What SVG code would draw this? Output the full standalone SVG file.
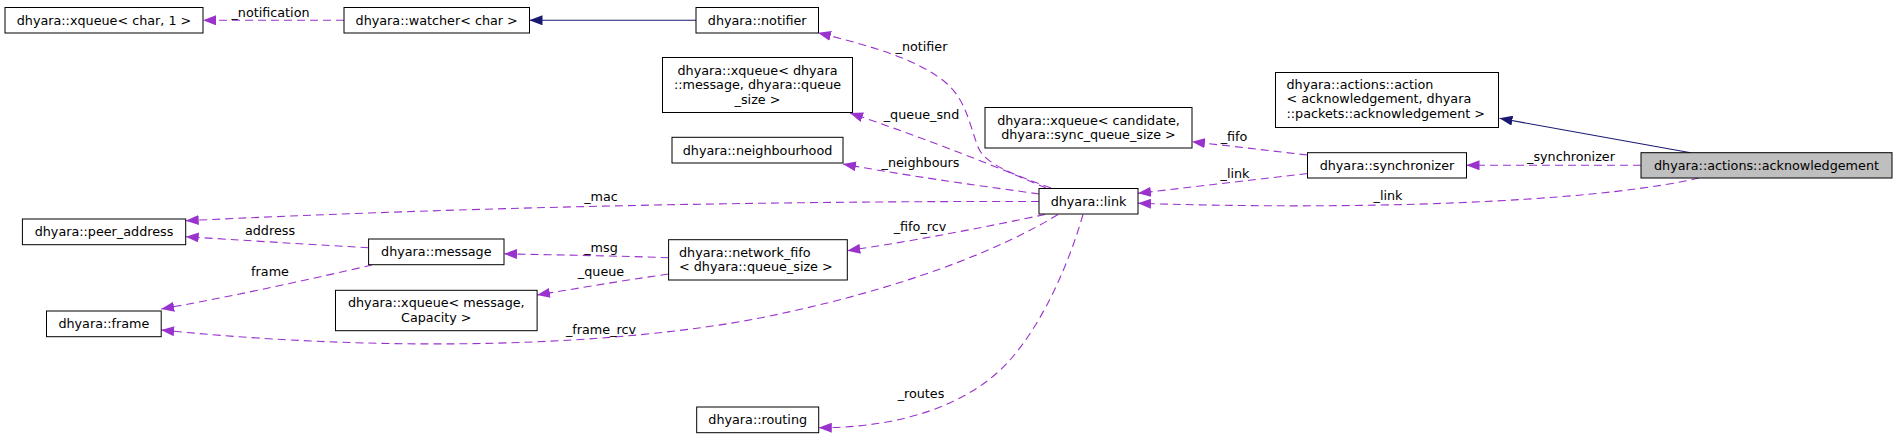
<svg xmlns="http://www.w3.org/2000/svg" width="1897" height="439" viewBox="0 0 1897 439">
<style>
.node rect{fill:#ffffff;stroke:#000000;stroke-width:1}
.node.root rect{fill:#bfbfbf}
text{font-family:"DejaVu Sans","Liberation Sans",sans-serif;font-size:12.75px;fill:#000000}
.c{text-anchor:middle}
.l{text-anchor:start}
.use{fill:none;stroke:#9a32cd;stroke-width:1.1;stroke-dasharray:8,5;marker-end:url(#ap)}
.inh{fill:none;stroke:#191970;stroke-width:1.1;marker-end:url(#an)}
.lbl{text-anchor:middle}
</style>
<defs>
<marker id="ap" markerUnits="userSpaceOnUse" viewBox="0 0 13 10" refX="13" refY="5" markerWidth="13" markerHeight="10" orient="auto">
<path d="M0,0 L13,5 L0,10 z" fill="#9a32cd" stroke="none"/>
</marker>
<marker id="an" markerUnits="userSpaceOnUse" viewBox="0 0 13 10" refX="13" refY="5" markerWidth="13" markerHeight="10" orient="auto">
<path d="M0,0 L13,5 L0,10 z" fill="#191970" stroke="none"/>
</marker>
</defs>
<rect width="1897" height="439" fill="#ffffff"/>
<g id="edges">
<path class="use" d="M344,20.3 L203,20.3"/>
<path class="inh" d="M696,20.3 L529.5,20.3"/>
<path class="inh" d="M1690.6,152.7 L1499.5,118.3"/>
<path class="use" d="M1641,165.3 L1466.5,165.3"/>
<path class="use" d="M1699,178 C1620,197 1420,212 1138,203.3"/>
<path class="use" d="M1307.5,173.5 L1138,193.3"/>
<path class="use" d="M1307.5,155 L1192,141.7"/>
<path class="use" d="M1051,188 C1018,176 985,165 978,147 C968,120 966,100 945,82 C915,58 870,46 818,32.7"/>
<path class="use" d="M1046,188 C1000,168 930,140 850,113"/>
<path class="use" d="M1039,194 C990,187 920,178 843,164"/>
<path class="use" d="M1039,201.5 C750,201 450,208 185.7,220.7"/>
<path class="use" d="M1045,214.5 C990,226 920,240 847.3,250.7"/>
<path class="use" d="M1058,214.5 C1000,250 900,290 760,318 C620,345 400,354 161.2,330"/>
<path class="use" d="M1083,214.5 C1070,260 1045,320 1010,360 C970,405 900,428 818.8,427.7"/>
<path class="use" d="M668.6,257.7 C620,256 560,255 504,253.8"/>
<path class="use" d="M668.6,274 C620,281 580,288 537,295"/>
<path class="use" d="M368.6,247.7 C300,244 240,240 185.7,236.7"/>
<path class="use" d="M372,265 C320,277 240,295 161.2,309"/>
<text class="lbl" x="270.5" y="16.5">_notification</text>
<text class="lbl" x="921.5" y="51">_notifier</text>
<text class="lbl" x="921.5" y="119">_queue_snd</text>
<text class="lbl" x="1234" y="141">_fifo</text>
<text class="lbl" x="1571" y="161">_synchronizer</text>
<text class="lbl" x="920.5" y="167">_neighbours</text>
<text class="lbl" x="1235" y="178">_link</text>
<text class="lbl" x="1388" y="200">_link</text>
<text class="lbl" x="601" y="201">_mac</text>
<text class="lbl" x="270" y="235">address</text>
<text class="lbl" x="270" y="275.5">frame</text>
<text class="lbl" x="601" y="251.5">_msg</text>
<text class="lbl" x="601" y="275.5">_queue</text>
<text class="lbl" x="920" y="231">_fifo_rcv</text>
<text class="lbl" x="601" y="334">_frame_rcv</text>
<text class="lbl" x="921" y="398">_routes</text>
</g>
<g id="n_xqueue_char" class="node"><rect x="5" y="7.5" width="198" height="25.5"/><text class="c" x="104" y="24.6">dhyara::xqueue&lt; char, 1 &gt;</text></g>
<g id="n_watcher" class="node"><rect x="344" y="7.5" width="185.5" height="25.5"/><text class="c" x="436.7" y="24.6">dhyara::watcher&lt; char &gt;</text></g>
<g id="n_notifier" class="node"><rect x="696" y="7.5" width="122.5" height="25.5"/><text class="c" x="757.2" y="24.6">dhyara::notifier</text></g>
<g id="n_xqueue_msg" class="node"><rect x="662.5" y="57.5" width="190" height="55"/><text class="c" x="757.5" y="75">dhyara::xqueue&lt; dhyara</text><text class="c" x="757.5" y="89.4">::message, dhyara::queue</text><text class="c" x="757.5" y="103.8">_size &gt;</text></g>
<g id="n_xqueue_cand" class="node"><rect x="985" y="107.5" width="207" height="40.5"/><text class="c" x="1088.5" y="124.6">dhyara::xqueue&lt; candidate,</text><text class="c" x="1088.5" y="139">dhyara::sync_queue_size &gt;</text></g>
<g id="n_action" class="node"><rect x="1275.5" y="72.5" width="223" height="55"/><text class="l" x="1286.5" y="89">dhyara::actions::action</text><text class="l" x="1286.5" y="103.4">&lt; acknowledgement, dhyara</text><text class="l" x="1286.5" y="117.8">::packets::acknowledgement &gt;</text></g>
<g id="n_sync" class="node"><rect x="1307.5" y="152.7" width="159" height="25.3"/><text class="c" x="1387" y="169.9">dhyara::synchronizer</text></g>
<g id="n_ack" class="node root"><rect x="1641" y="152.7" width="251" height="25.3"/><text class="c" x="1766.5" y="169.9">dhyara::actions::acknowledgement</text></g>
<g id="n_neigh" class="node"><rect x="672" y="137.3" width="171" height="25.7"/><text class="c" x="757.5" y="154.8">dhyara::neighbourhood</text></g>
<g id="n_link" class="node"><rect x="1039" y="188.5" width="99" height="25.5"/><text class="c" x="1088.5" y="205.8">dhyara::link</text></g>
<g id="n_netfifo" class="node"><rect x="668.6" y="239.7" width="178.7" height="40.3"/><text class="l" x="679" y="256.6">dhyara::network_fifo</text><text class="l" x="679" y="271">&lt; dhyara::queue_size &gt;</text></g>
<g id="n_peer" class="node"><rect x="22.4" y="219" width="163.3" height="25.7"/><text class="c" x="104" y="236.4">dhyara::peer_address</text></g>
<g id="n_message" class="node"><rect x="368.6" y="239" width="135.4" height="25.7"/><text class="c" x="436.3" y="256.4">dhyara::message</text></g>
<g id="n_frame" class="node"><rect x="46.5" y="311" width="114.7" height="25.7"/><text class="c" x="103.9" y="328.4">dhyara::frame</text></g>
<g id="n_xqueue_msgcap" class="node"><rect x="335.5" y="290.3" width="201.6" height="40.4"/><text class="c" x="436.3" y="307.4">dhyara::xqueue&lt; message,</text><text class="c" x="436.3" y="321.8">Capacity &gt;</text></g>
<g id="n_routing" class="node"><rect x="696.7" y="407" width="122" height="25.7"/><text class="c" x="757.7" y="424.4">dhyara::routing</text></g>
</svg>
